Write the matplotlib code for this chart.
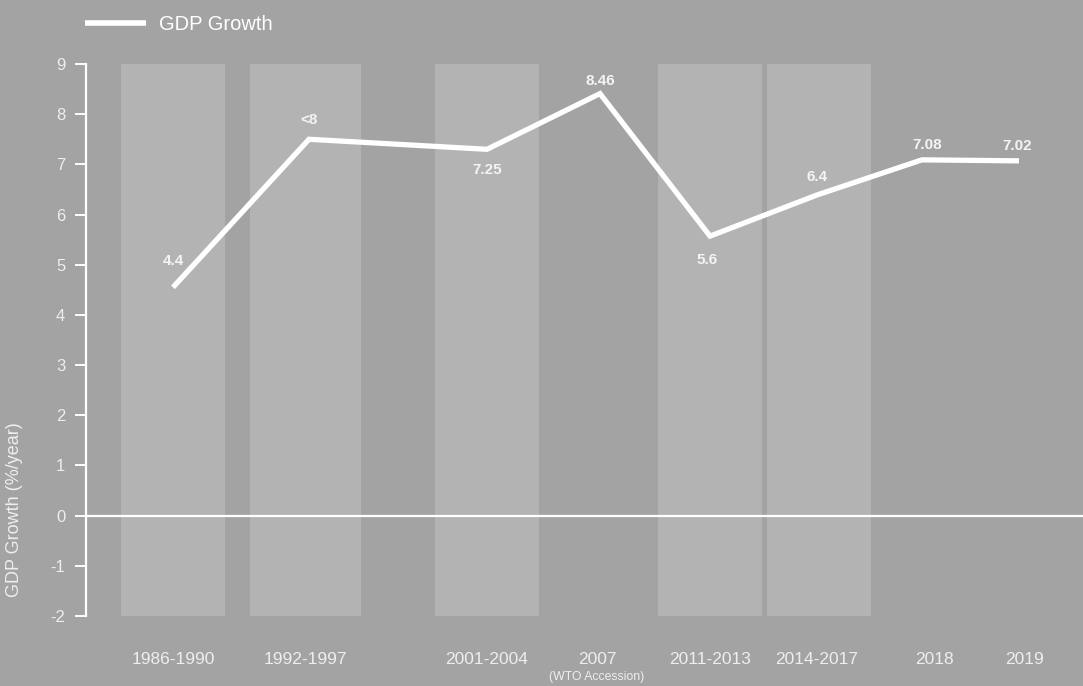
import matplotlib
matplotlib.use("Agg")
import matplotlib.pyplot as plt
from matplotlib.transforms import blended_transform_factory

# ---------------------------------------------------------------------------
# Data
# ---------------------------------------------------------------------------
periods = ["1986-1990", "1992-1997", "2001-2004", "2007",
           "2011-2013", "2014-2017", "2018", "2019"]
growth = [4.55, 7.50, 7.30, 8.41, 5.57, 6.39, 7.09, 7.07]      # line vertices
point_labels = ["4.4", "<8", "7.25", "8.46", "5.6", "6.4", "7.08", "7.02"]
shaded = ["1986-1990", "1992-1997", "2001-2004", "2011-2013", "2014-2017"]
y_ticks = list(range(-2, 10))

# ---------------------------------------------------------------------------
# Layout (horizontal slot positions are irregular in the original)
# ---------------------------------------------------------------------------
POINT_X = [87, 223, 401, 514, 624, 731, 836, 933]
TICK_X = [87, 219, 401, 511, 624, 731, 848, 938]
BAND_SPAN = {"1986-1990": (35, 139), "1992-1997": (164, 275),
             "2001-2004": (349, 453), "2011-2013": (572, 676),
             "2014-2017": (681, 785)}
LABEL_OFFSET = [(0, 19), (0, 14), (0, -15), (0, 9), (-2, -17),
                (0, 13), (4, 11), (-1, 11)]

BG = "#a3a3a3"
BAND = "#b3b3b3"
TXT = "#eeeeee"

plt.rcParams["font.family"] = ["Liberation Sans", "DejaVu Sans"]
plt.rcParams["axes.unicode_minus"] = False

fig = plt.figure(figsize=(10.83, 6.86), dpi=100, facecolor=BG)
ax = fig.add_axes([86 / 1083, 1 - 616 / 686, 1 - 86 / 1083, (616 - 64) / 686])
ax.set_facecolor(BG)
ax.set_xlim(0, 997)
ax.set_ylim(-2, 9)

# shaded period bands
for name in shaded:
    x0, x1 = BAND_SPAN[name]
    ax.axvspan(x0, x1, color=BAND, lw=0, zorder=0)

# zero line
ax.axhline(0, color="white", lw=1.6, zorder=2)

# GDP growth line
line, = ax.plot(POINT_X, growth, color="white", lw=3.8, solid_joinstyle="miter",
                solid_capstyle="butt", zorder=3, label="GDP Growth")

for x, y, lab, (dx, dy) in zip(POINT_X, growth, point_labels, LABEL_OFFSET):
    ax.annotate(lab, xy=(x, y), xytext=(dx, dy), textcoords="offset points",
                ha="center", va="center", fontsize=11, fontweight="bold",
                color="#f4f4f4", zorder=4)

# axes styling
for s in ["top", "right", "bottom"]:
    ax.spines[s].set_visible(False)
ax.spines["left"].set_color("white")
ax.spines["left"].set_linewidth(1.6)
ax.set_yticks(y_ticks)
ax.tick_params(axis="y", colors="white", length=8, width=1.4, pad=7,
               labelsize=12, labelcolor=TXT)
ax.set_xticks(TICK_X)
ax.set_xticklabels(periods)
ax.tick_params(axis="x", length=0, pad=26, labelsize=12.5, labelcolor=TXT)

# sub-label under the 2007 tick
ax.text(TICK_X[3], 1 - 677 / 686, "(WTO Accession)",
        transform=blended_transform_factory(ax.transData, fig.transFigure),
        ha="center", va="center", fontsize=8.8, color=TXT)

fig.text(15 / 1083, 1 - 510 / 686, "GDP Growth (%/year)", rotation=90,
         ha="center", va="center", fontsize=13, color=TXT)

# legend
leg = fig.legend(handles=[line], loc="upper left",
                 bbox_to_anchor=(67 / 1083, 1 + 3 / 686), frameon=False,
                 fontsize=14.5, handlelength=3.0, handletextpad=0.65,
                 labelcolor="white")
for h in leg.legend_handles:
    h.set_linewidth(4)

fig.savefig("out.png", dpi=100, facecolor=BG)
